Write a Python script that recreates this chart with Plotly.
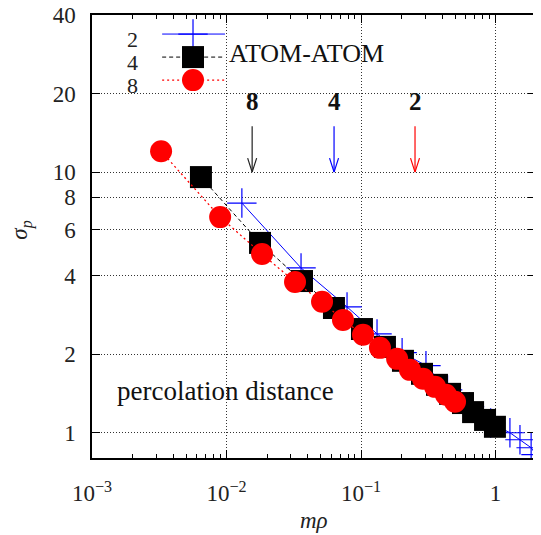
import numpy as np
import plotly.graph_objects as go

# ---------------- data ----------------
# series "2" (blue crosses, solid line)
x_2 = [0.0130, 0.0358, 0.0787, 0.1315, 0.202, 0.304, 0.44, 0.64, 0.92, 1.28, 1.52, 1.84, 2.0]
y_2 = [7.61, 4.29, 3.04, 2.395, 2.03, 1.81, 1.46, 1.26, 1.09, 1.00, 0.94, 0.876, 0.824]
# series "4" (black squares, dashed line)
x_4 = [0.00645, 0.01774, 0.0364, 0.0629, 0.1016, 0.1506, 0.205, 0.284, 0.367,
       0.459, 0.573, 0.681, 0.836, 0.99]
y_4 = [9.57, 5.35, 3.82, 3.01, 2.50, 2.135, 1.888, 1.683, 1.527,
       1.41, 1.30, 1.20, 1.12, 1.054]
# series "8" (red circles, dotted line)
x_8 = [0.00326, 0.00896, 0.01836, 0.0323, 0.0513, 0.0734, 0.1035, 0.1383,
       0.1855, 0.231, 0.289, 0.355, 0.428, 0.500]
y_8 = [12.03, 6.72, 4.85, 3.79, 3.18, 2.71, 2.375, 2.117,
       1.921, 1.743, 1.61, 1.50, 1.398, 1.315]

series_names = ["2", "4", "8"]

# arrows marking positions
arrow_x = [0.0155, 0.063, 0.252]
arrow_labels = ["8", "4", "2"]
arrow_colors = ["#222222", "blue", "red"]
arrow_top = 15.0
arrow_tip = 10.0
arrow_label_y = 18.7

# tick labels
x_tickvals = [0.001, 0.01, 0.1, 1]
x_ticktext = ["10<sup>\u22123</sup>", "10<sup>\u22122</sup>", "10<sup>\u22121</sup>", "1"]
x_minor = [m * 10.0 ** e for e in (-3, -2, -1, 0) for m in range(2, 10) if m * 10.0 ** e <= 2.0]
y_tickvals = [1, 2, 4, 6, 8, 10, 20, 40]
y_ticktext = [str(v) for v in y_tickvals]

# ---------------- styles ----------------
FONT = "Liberation Serif"
BLUE = "#0000ff"
RED = "#ff0000"
BLACK = "#000000"

fig = go.Figure()

styles = [
    dict(x=x_2, y=y_2, line=dict(color=BLUE, width=1),
         marker=dict(symbol="cross-thin", size=21, line=dict(color=BLUE, width=1.2), color=BLUE)),
    dict(x=x_4, y=y_4, line=dict(color=BLACK, width=1, dash="4px,3px"),
         marker=dict(symbol="square", size=22, color=BLACK, line=dict(width=0))),
    dict(x=x_8, y=y_8, line=dict(color=RED, width=1.3, dash="2px,3px"),
         marker=dict(symbol="circle", size=22, color=RED, line=dict(width=0))),
]

for name, st in zip(series_names, styles):
    fig.add_trace(go.Scatter(x=st["x"], y=st["y"], mode="lines+markers", name=name,
                             line=st["line"], marker=st["marker"], showlegend=False))

# arrows: shaft + open V head, built from the arrow positions
head_dx = 10 ** (4.5 / 134.5)
head_dy = 10 ** (14 / 261.0)
for ax_, col in zip(arrow_x, arrow_colors):
    xs = [ax_, ax_, None, ax_ / head_dx, ax_, ax_ * head_dx]
    ys = [arrow_top, arrow_tip, None, arrow_tip * head_dy, arrow_tip, arrow_tip * head_dy]
    fig.add_trace(go.Scatter(x=xs, y=ys, mode="lines", line=dict(color=col, width=1.2),
                             showlegend=False, hoverinfo="skip"))

for ax_, lab in zip(arrow_x, arrow_labels):
    fig.add_annotation(x=np.log10(ax_), y=np.log10(arrow_label_y), text="<b>%s</b>" % lab,
                       showarrow=False, xref="x", yref="y", font=dict(family=FONT, size=25, color="#111"),
                       xanchor="center", yanchor="middle")

# ---------------- hand-made key (gnuplot style: text left, sample right) -------------
key_x0, key_x1, key_xm = 0.158, 0.2995, 0.2275
key_rows = [0.957, 0.905, 0.853]
for st, yr, name in zip(styles, key_rows, series_names):
    fig.add_trace(go.Scatter(x=[key_x0, key_xm, key_x1], y=[yr, yr, yr], mode="lines",
                             line=st["line"], xaxis="x2", yaxis="y2", showlegend=False,
                             hoverinfo="skip", cliponaxis=False))
    fig.add_trace(go.Scatter(x=[key_xm], y=[yr], mode="markers", marker=st["marker"],
                             xaxis="x2", yaxis="y2", showlegend=False, hoverinfo="skip",
                             cliponaxis=False))
    fig.add_annotation(x=0.108, y=yr - 0.013, xref="paper", yref="paper", text=name,
                       showarrow=False, xanchor="right", yanchor="middle",
                       font=dict(family=FONT, size=22, color="#222"))

fig.add_annotation(x=0.304, y=0.914, xref="paper", yref="paper", text="ATOM-ATOM",
                   showarrow=False, xanchor="left", yanchor="middle",
                   font=dict(family=FONT, size=26, color="#111"))

fig.add_annotation(x=0.052, y=0.152, xref="paper", yref="paper", text="percolation distance",
                   showarrow=False, xanchor="left", yanchor="middle",
                   font=dict(family=FONT, size=27, color="#111"))

# axis titles
fig.add_annotation(x=0.5, y=-0.140, xref="paper", yref="paper", text="<i>m\u03c1</i>",
                   showarrow=False, xanchor="center", yanchor="middle",
                   font=dict(family=FONT, size=23, color="#222"))
fig.add_annotation(x=-0.158, y=0.515, xref="paper", yref="paper",
                   text="<i>\u03c3<sub>p</sub></i>", textangle=-90,
                   showarrow=False, xanchor="center", yanchor="middle",
                   font=dict(family=FONT, size=23, color="#222"))

grid = dict(showgrid=True, gridcolor="#333333", gridwidth=1, griddash="1px,2px")

# the page body has an 8px default margin, so the figure is sized/offset to fill 541x535
fig.update_layout(
    width=533, height=527,
    margin=dict(l=84, r=5, t=7, b=77, autoexpand=False),
    paper_bgcolor="white", plot_bgcolor="white",
    font=dict(family=FONT, size=23, color="#222"),
    xaxis=dict(type="log", range=[-3.0005, np.log10(2.0)], automargin=False,
               tickmode="array", tickvals=x_tickvals, ticktext=x_ticktext,
               ticks="inside", ticklen=8, tickwidth=1, tickcolor="black",
               showline=True, linecolor="black", linewidth=1.5, mirror="ticks",
               zeroline=False, ticklabelstandoff=14, ticklabeloverflow="allow",
               minor=dict(tickmode="array", tickvals=x_minor, ticks="inside", ticklen=4,
                          tickcolor="black", tickwidth=1, showgrid=False),
               **grid),
    yaxis=dict(type="log", range=[np.log10(0.8), np.log10(40) + 0.0008], automargin=False,
               tickmode="array", tickvals=y_tickvals, ticktext=y_ticktext,
               ticks="inside", ticklen=8, tickwidth=1, tickcolor="black",
               showline=True, linecolor="black", linewidth=1.5, mirror="ticks",
               zeroline=False, ticklabelstandoff=10, ticklabeloverflow="allow",
               **grid),
    xaxis2=dict(overlaying="x", range=[0, 1], visible=False, fixedrange=True, automargin=False),
    yaxis2=dict(overlaying="y", range=[0, 1], visible=False, fixedrange=True, automargin=False),
)

fig.write_html("out.html")
